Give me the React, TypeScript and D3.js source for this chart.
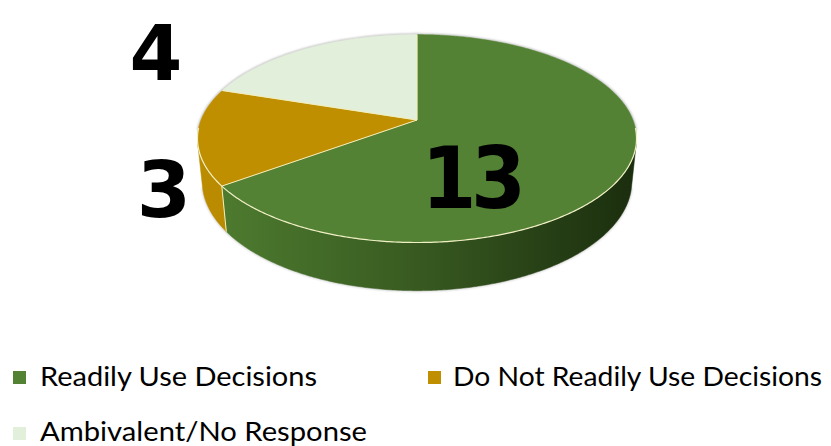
import React from "react";
import * as d3 from "d3";

const categories = ["Readily Use Decisions", "Do Not Readily Use Decisions", "Ambivalent/No Response"];
const values = [13, 3, 4];
const topColors = ["#548235", "#BF8F00", "#E2EFDA"];
const sideDark = ["#1b2e0e", "#9a7300", "#b9c7b0"];
const sideLight = ["#4f7e30", "#bb8c00", "#d6e3cf"];

const W = 831;
const H = 446;

// perspective projection of a horizontal disc
const CX = 417;
const CY = 120;
const K = 216;
const D = 4.96;
const SA = 0.466;
const CA = Math.sqrt(1 - SA * SA);
const THICK = 0.226;

function proj(theta: number, y: number, r = 1): [number, number] {
  const X = r * Math.sin(theta);
  const Z = -r * Math.cos(theta);
  const ratio = (D - y * SA - Z * CA) / D;
  return [CX + (K * X) / ratio, CY - (K * (y * CA - Z * SA)) / ratio];
}

function arcPts(a0: number, a1: number, y: number): [number, number][] {
  const n = Math.max(2, Math.ceil(Math.abs(a1 - a0) / 0.01));
  return d3.range(n + 1).map((i) => proj(a0 + ((a1 - a0) * i) / n, y));
}

const line = d3.line();

const labelLayout = [
  { x: 471, y: 208, size: 86, sx: 0.92, ls: -6 },
  { x: 164, y: 217, size: 78, sx: 1, ls: 0 },
  { x: 156, y: 80, size: 76, sx: 1, ls: 0 },
];

const legendLayout = [
  { x: 13, y: 371, tx: 40, ty: 386, tl: 277 },
  { x: 428, y: 371, tx: 453, ty: 386, tl: 369 },
  { x: 13, y: 427, tx: 40, ty: 441, tl: 327 },
];

export default function App() {
  const arcs = d3.pie<number>().sort(null)(values);
  const zs = 1 / (D * CA);
  const vis0 = Math.acos(-zs);
  const vis1 = 2 * Math.PI - vis0;

  const sides = arcs
    .map((a, i) => {
      const a0 = Math.max(a.startAngle, vis0);
      const a1 = Math.min(a.endAngle, vis1);
      if (a0 >= a1) return null;
      const pts = [...arcPts(a0, a1, 0), ...arcPts(a1, a0, -THICK)];
      return { i, d: line(pts) + "Z" };
    })
    .filter(Boolean) as { i: number; d: string }[];

  const tops = arcs.map((a, i) => {
    const pts = [proj(0, 0, 0), ...arcPts(a.startAngle, a.endAngle, 0)];
    return { i, d: line(pts) + "Z" };
  });

  const frontEdge = line(arcPts(vis0 - 0.15, vis1 + 0.15, 0));
  const backEdge = line(arcPts(-Math.PI / 2 - 0.1, Math.PI / 2 + 0.1, 0));
  const bottomEdge = line(arcPts(vis0, vis1, -THICK));

  return (
    <svg width={W} height={H} style={{ position: "absolute", left: 0, top: 0, background: "#fff" }}>
      <defs>
        {sideDark.map((c, i) => (
          <linearGradient key={i} id={`side${i}`} gradientUnits="userSpaceOnUse" x1={CX - K} x2={CX + K} y1={0} y2={0}>
            <stop offset="0" stopColor={sideLight[i]} />
            <stop offset="0.5" stopColor={d3.interpolateRgb(sideLight[i], c)(0.45)} />
            <stop offset="1" stopColor={c} />
          </linearGradient>
        ))}
        <filter id="blur1" x="-10%" y="-10%" width="120%" height="120%">
          <feGaussianBlur stdDeviation="1" />
        </filter>
      </defs>
      <path d={bottomEdge ?? ""} fill="none" stroke="#6b6b6b" strokeWidth={1.5} opacity={0.4} filter="url(#blur1)" />
      {sides.map((s) => (
        <path key={`s${s.i}`} d={s.d} fill={`url(#side${s.i})`} stroke={`url(#side${s.i})`} strokeWidth={0.5} />
      ))}
      <path d={backEdge ?? ""} fill="none" stroke="#7a7a7a" strokeWidth={2} opacity={0.55} filter="url(#blur1)" />
      {tops.map((t) => (
        <path key={`t${t.i}`} d={t.d} fill={topColors[t.i]} stroke={topColors[t.i]} strokeWidth={0.5} />
      ))}
      {arcs.map((a, i) => {
        const p0 = proj(0, 0, 0);
        const p1 = proj(a.startAngle, 0);
        return (
          <line key={`b${i}`} x1={p0[0]} y1={p0[1]} x2={p1[0]} y2={p1[1]} stroke="#f3eebc" strokeWidth={1} />
        );
      })}
      <path d={frontEdge ?? ""} fill="none" stroke="#f1efc6" strokeWidth={1.2} />
      {arcs.map((a, i) => {
        const p0 = proj(a.startAngle, 0);
        const p1 = proj(a.startAngle, -THICK);
        if (a.startAngle <= vis0 || a.startAngle >= vis1) return null;
        return <line key={`v${i}`} x1={p0[0]} y1={p0[1]} x2={p1[0]} y2={p1[1]} stroke="#f3eebc" strokeWidth={1} />;
      })}
      {values.map((v, i) => {
        const L = labelLayout[i];
        return (
          <text
            key={`l${i}`}
            x={0}
            y={0}
            transform={`translate(${L.x},${L.y}) scale(${L.sx},1)`}
            textAnchor="middle"
            fontFamily="'DejaVu Sans', Verdana, sans-serif"
            fontWeight="bold"
            fontSize={L.size}
            letterSpacing={L.ls}
            fill="#000"
          >
            {v}
          </text>
        );
      })}
      {categories.map((c, i) => (
        <g key={`g${i}`}>
          <rect x={legendLayout[i].x} y={legendLayout[i].y} width={13} height={13} fill={topColors[i]} />
          <text
            x={legendLayout[i].tx}
            y={legendLayout[i].ty}
            fontFamily="Lato, 'Open Sans', sans-serif"
            fontSize={26.5}
            fill="#000"
            textLength={legendLayout[i].tl}
            lengthAdjust="spacingAndGlyphs"
          >
            {c}
          </text>
        </g>
      ))}
    </svg>
  );
}
